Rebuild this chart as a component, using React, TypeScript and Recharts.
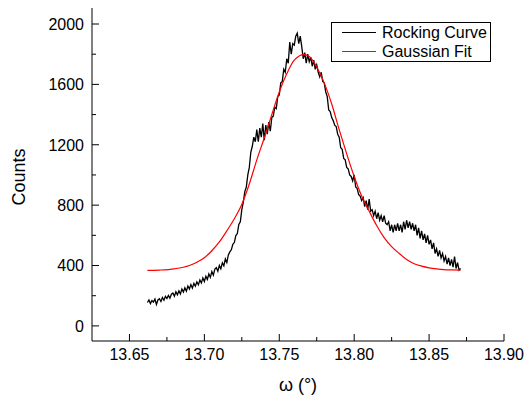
import React from "react";
import { LineChart, Line, XAxis, YAxis, Legend, Label } from "recharts";

// rocking curve scan: start, step (millidegrees) and counts
const SCAN_START = 13662;
const SCAN_STEP = 1;
const rockingCounts = [
  155, 172, 148, 168, 158, 178, 142, 172, 180, 162,
  188, 170, 196, 182, 202, 184, 210, 218, 196, 226,
  206, 232, 212, 244, 224, 252, 230, 264, 244, 274,
  250, 282, 264, 292, 272, 304, 284, 318, 294, 328,
  308, 344, 322, 360, 336, 376, 386, 362, 400, 378,
  418, 398, 444, 420, 470, 490, 504, 540, 552, 598,
  612, 672, 690, 770, 820, 890, 920, 1000, 1050, 1150,
  1190, 1250, 1220, 1300, 1220, 1310, 1250, 1340, 1230, 1330,
  1270, 1350, 1290, 1380, 1390, 1450, 1440, 1520, 1530, 1610,
  1620, 1700, 1680, 1770, 1740, 1880, 1800, 1870, 1860, 1920,
  1940, 1870, 1920, 1850, 1770, 1810, 1740, 1800, 1750, 1780,
  1720, 1760, 1700, 1730, 1680, 1650, 1680, 1620, 1610, 1550,
  1520, 1430, 1420, 1380, 1360, 1330, 1320, 1270, 1250, 1180,
  1170, 1110, 1100, 1050, 1040, 1000, 990, 960, 1000, 920,
  910, 870, 860, 830, 850, 790, 830, 770, 840, 760,
  770, 730, 760, 710, 750, 700, 730, 690, 730, 680,
  670, 690, 630, 670, 620, 670, 630, 680, 630, 670,
  620, 690, 640, 700, 650, 690, 640, 680, 630, 670,
  600, 650, 580, 630, 570, 610, 550, 600, 540, 570,
  510, 550, 480, 510, 460, 500, 450, 480, 430, 460,
  410, 450, 400, 440, 390, 460, 380, 420, 370, 380,
];

// gaussian fit
const fitOmega = [
  13.662, 13.67, 13.68, 13.69, 13.695, 13.7, 13.705, 13.71, 13.715, 13.72,
  13.725, 13.73, 13.735, 13.74, 13.745, 13.75, 13.755, 13.76, 13.7665, 13.77,
  13.775, 13.78, 13.785, 13.79, 13.795, 13.8, 13.805, 13.81, 13.815, 13.82,
  13.825, 13.83, 13.835, 13.84, 13.845, 13.85, 13.855, 13.86, 13.865, 13.871,
];
const fitCounts = [
  368, 370, 378, 400, 422, 452, 498, 556, 630, 710,
  805, 940, 1100, 1245, 1400, 1550, 1670, 1760, 1797, 1785,
  1715, 1610, 1470, 1300, 1140, 990, 860, 760, 665, 585,
  525, 480, 440, 412, 396, 385, 378, 373, 371, 370,
];

const xTicks = [
  13.65, 13.675, 13.7, 13.725, 13.75, 13.775, 13.8, 13.825, 13.85, 13.875, 13.9,
];
const yTicks = [0, 200, 400, 600, 800, 1000, 1200, 1400, 1600, 1800, 2000];

const xDomain: [number, number] = [13.625, 13.9];
const yDomain: [number, number] = [-100, 2106];

const rockingData = rockingCounts.map((c, i) => ({
  w: (SCAN_START + i * SCAN_STEP) / 1000,
  c,
}));
const fitData = fitOmega.map((w, i) => ({ w, c: fitCounts[i] }));

const FONT = "'Liberation Sans', Arial, sans-serif";
const MAJOR = 7;
const MINOR = 4;

const isMajorX = (v: number) => Math.round(v * 1000) % 50 === 0;
const isMajorY = (v: number) => v % 400 === 0;

const LeftTick = (props: any) => {
  const { x, y, payload } = props;
  const v = payload.value;
  const ax = x + 8;
  return (
    <g>
      <line x1={ax} x2={ax + (isMajorY(v) ? MAJOR : MINOR)} y1={y} y2={y} stroke="#000" />
      {isMajorY(v) && (
        <text x={x} y={y} dy="0.36em" textAnchor="end" fontSize={16} fontFamily={FONT} fill="#000">
          {v}
        </text>
      )}
    </g>
  );
};

const RightTick = (props: any) => {
  const { x, y, payload } = props;
  const len = isMajorY(payload.value) ? MAJOR : MINOR;
  return <line x1={x} x2={x - len} y1={y} y2={y} stroke="#000" />;
};

const BottomTick = (props: any) => {
  const { x, y, payload } = props;
  const v = payload.value;
  const ay = y - 19;
  return (
    <g>
      <line x1={x} x2={x} y1={ay} y2={ay - (isMajorX(v) ? MAJOR : MINOR)} stroke="#000" />
      {isMajorX(v) && (
        <text x={x} y={y} textAnchor="middle" fontSize={16} fontFamily={FONT} fill="#000">
          {v.toFixed(2)}
        </text>
      )}
    </g>
  );
};

const TopTick = (props: any) => {
  const { x, y, payload } = props;
  const len = isMajorX(payload.value) ? MAJOR : MINOR;
  return <line x1={x} x2={x} y1={y} y2={y + len} stroke="#000" />;
};

const legendItems = [
  { name: "Rocking Curve", color: "#000" },
  { name: "Gaussian Fit", color: "#ff0000" },
];

const LegendBox = () => (
  <div
    style={{
      border: "1px solid #000",
      background: "#fff",
      width: 158,
      height: 38,
      boxSizing: "content-box",
      fontFamily: FONT,
      fontSize: 16,
      lineHeight: "19px",
    }}
  >
    {legendItems.map((it) => (
      <div key={it.name} style={{ display: "flex", alignItems: "center", height: 19 }}>
        <span style={{ width: 34, height: 1.3, background: it.color, marginLeft: 10, marginRight: 6 }} />
        <span style={{ color: "#000" }}>{it.name}</span>
      </div>
    ))}
  </div>
);

export default function App() {
  return (
    <div style={{ position: "absolute", left: 0, top: 0, background: "#fff" }}>
      <LineChart
        width={525}
        height={396}
        margin={{ top: 8, right: 21, bottom: 0, left: 0 }}
      >
        <XAxis
          xAxisId={0}
          dataKey="w"
          type="number"
          domain={xDomain}
          allowDataOverflow
          ticks={xTicks}
          interval={0}
          height={55}
          tickSize={0}
          tickMargin={19}
          tickLine={false}
          axisLine={{ stroke: "#000" }}
          tick={<BottomTick />}
        >
          <Label
            content={() => (
              <text x={298} y={391} textAnchor="middle" fontSize={18} fontFamily={FONT} fill="#000">
                ω (°)
              </text>
            )}
          />
        </XAxis>
        <XAxis
          xAxisId="top"
          orientation="top"
          dataKey="w"
          type="number"
          domain={xDomain}
          allowDataOverflow
          ticks={xTicks}
          interval={0}
          height={0}
          tickSize={0}
          tickMargin={0}
          tickLine={false}
          axisLine={{ stroke: "#000" }}
          tick={<TopTick />}
        />
        <YAxis
          yAxisId={0}
          type="number"
          domain={yDomain}
          allowDataOverflow
          ticks={yTicks}
          interval={0}
          width={92}
          tickSize={0}
          tickMargin={8}
          tickLine={false}
          axisLine={{ stroke: "#000" }}
          tick={<LeftTick />}
        >
          <Label
            content={() => (
              <text
                x={25}
                y={177}
                transform="rotate(-90, 25, 177)"
                textAnchor="middle"
                fontSize={18}
                fontFamily={FONT}
                fill="#000"
              >
                Counts
              </text>
            )}
          />
        </YAxis>
        <YAxis
          yAxisId="right"
          orientation="right"
          type="number"
          domain={yDomain}
          allowDataOverflow
          ticks={yTicks}
          interval={0}
          width={0}
          tickSize={0}
          tickMargin={0}
          tickLine={false}
          axisLine={{ stroke: "#000" }}
          tick={<RightTick />}
        />
        <Legend
          layout="horizontal"
          verticalAlign="middle"
          align="center"
          wrapperStyle={{ top: 22, left: 331, width: 160, height: 40 }}
          content={<LegendBox />}
        />
        <Line
          data={rockingData}
          dataKey="c"
          xAxisId={0}
          yAxisId={0}
          type="linear"
          stroke="#000"
          strokeWidth={1.3}
          dot={false}
          isAnimationActive={false}
        />
        <Line
          data={fitData}
          dataKey="c"
          xAxisId={0}
          yAxisId={0}
          type="monotone"
          stroke="#ff0000"
          strokeWidth={1.2}
          dot={false}
          isAnimationActive={false}
        />
      </LineChart>
    </div>
  );
}
